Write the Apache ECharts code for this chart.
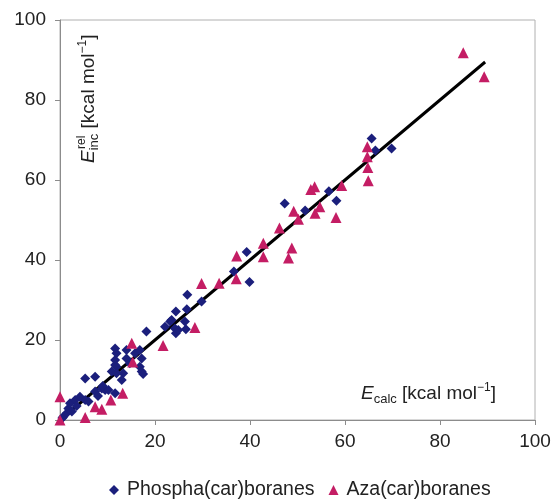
<!DOCTYPE html>
<html><head><meta charset="utf-8">
<script src="https://cdn.jsdelivr.net/npm/echarts@6/dist/echarts.min.js"></script>
<style>html,body{margin:0;padding:0;background:#fff}#c{width:555px;height:499px}</style>
</head><body><div id="c"></div>
<script>
const xTicks = [0, 20, 40, 60, 80, 100];
const yTicks = [0, 20, 40, 60, 80, 100];
const phosphaName = 'Phospha(car)boranes';
const azaName = 'Aza(car)boranes';
const phospha = [
 [0.5,0.5],[0.7,0.8],[1.4,1.7],[1.75,2.9],[2.5,2.1],[2.1,4.2],[3.2,5],[4.2,5.8],[5.3,5],[6,4.6],[3.5,3.5],
 [5.3,10.4],[7.4,10.8],[7.4,7.1],[8.8,7.9],[9.5,7.5],[10.2,7.5],[11.6,6.7],[10.9,12.1],[11.9,11.7],[11.9,13.3],
 [11.6,15],[11.9,16.7],[11.6,17.9],[11.6,13.75],[13.3,11.7],[13,10],[14,17.5],[14,15.4],[14.7,14.2],[15.8,16.7],
 [16.8,17.5],[17.2,15.4],[16.8,13.3],[17.2,12.1],[17.5,11.5],[18.2,22.1],[22.1,23.3],[23.2,24.6],[23.5,25],
 [24.2,22.9],[24.4,21.7],[24.4,27.1],[24.9,22.5],[26.3,24.6],[26.5,22.7],[26.7,27.7],[26.8,31.3],[29.8,29.6],
 [36.6,37.1],[39.3,42],[39.9,34.5],[47.3,54.1],[51.6,52.4],[56.6,57.2],[58.2,54.8],[65.6,70.4],[66.4,67.4],
 [69.8,67.9],[8,6],[9,8.5]
];
const aza = [
 [0,0],[0,5.8],[5.3,0.6],[7.4,3.3],[8.8,2.7],[10.7,5],[13.2,6.7],[15.1,19.2],[15.3,14.5],[21.7,18.6],[28.4,23.1],
 [29.8,34.1],[33.5,34.2],[37.1,35.3],[37.2,41],[42.8,40.8],[42.8,44.2],[46.2,48],[48.1,40.5],[48.8,43],[49.2,52.2],
 [50.2,50.2],[52.8,57.6],[53.6,58.3],[53.7,51.7],[54.7,53.3],[58.1,50.6],[59.3,58.6],[64.7,68.3],[64.7,65.8],
 [64.8,63.1],[64.9,59.8],[84.9,91.8],[89.3,85.8]
];
const fitLine = [[0,0],[89.5,89.5]];

const FONT = '"Liberation Sans", Arial, sans-serif';
const chart = echarts.init(document.getElementById('c'), null, {renderer:'canvas'});
const axisCommon = {
  type:'value', min:0, max:100, interval:20,
  splitLine:{show:false},
  axisLine:{show:true, lineStyle:{color:'#8c8c8c', width:1}},
  axisTick:{show:true, inside:false, length:5, lineStyle:{color:'#8c8c8c'}},
  axisLabel:{fontFamily:FONT, fontSize:19, color:'#222'}
};
const richStyles = {
  e:{fontStyle:'italic', fontSize:19, fontFamily:FONT, fill:'#222'},
  sub:{fontSize:13, fontFamily:FONT, verticalAlign:'bottom', fill:'#222', lineHeight:24},
  sup:{fontSize:12, fontFamily:FONT, verticalAlign:'top', fill:'#222', lineHeight:24},
  n:{fontSize:19, fontFamily:FONT, fill:'#222'}
};
chart.setOption({
  animation:false,
  grid:{left:60, right:20, top:20, bottom:79, show:true, borderColor:'#b0b0b0', borderWidth:1},
  xAxis:Object.assign({}, axisCommon, {axisLabel:Object.assign({}, axisCommon.axisLabel, {margin:12})}),
  yAxis:Object.assign({}, axisCommon, {axisLabel:Object.assign({}, axisCommon.axisLabel, {margin:14})}),
  legend:{
    data:[{name:phosphaName, icon:'diamond'},{name:azaName, icon:'triangle'}],
    left:104, top:475, itemWidth:10, itemHeight:10, itemGap:14,
    textStyle:{fontFamily:FONT, fontSize:19.5, color:'#222', padding:[0,0,0,3]}
  },
  series:[
    {type:'line', data:fitLine, symbol:'none', lineStyle:{color:'#000', width:3}, z:3, silent:true},
    {name:phosphaName, type:'scatter', data:phospha, symbol:'diamond', symbolSize:10,
     itemStyle:{color:'#1b1f7c', opacity:1}, z:4},
    {name:azaName, type:'scatter', data:aza, symbol:'triangle', symbolSize:11,
     itemStyle:{color:'#c41d64', opacity:1}, z:5}
  ],
  graphic:[
    {type:'text', left:361, top:382, style:{
      text:'{e|E}{sub|calc}{n| [kcal mol}{sup|−1}{n|]}', rich:richStyles, fontFamily:FONT, fontSize:19, fill:'#222'}},
    {type:'text', x:77, y:163, rotation:Math.PI/2, style:{
      text:'{e|E}{sub|inc}{n| [kcal mol}{sup|−1}{n|]}', rich:richStyles, fontFamily:FONT, fontSize:19, fill:'#222'}},
    {type:'text', x:76, y:149, rotation:Math.PI/2, style:{
      text:'rel', fontFamily:FONT, fontSize:12, fill:'#222'}}
  ]
});
</script></body></html>
